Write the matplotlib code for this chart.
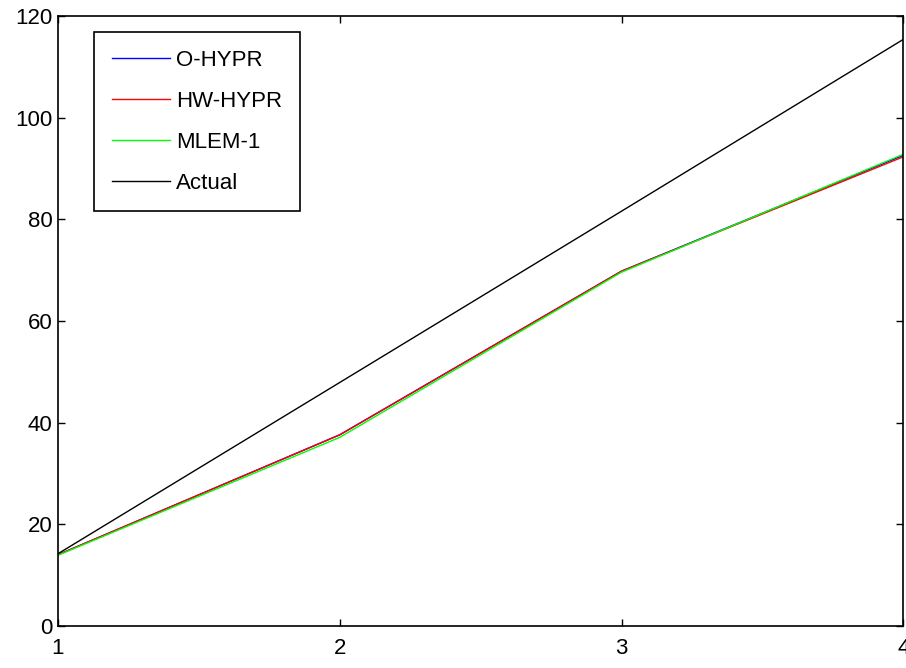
import matplotlib
matplotlib.use("Agg")
import matplotlib.pyplot as plt

x = [1, 2, 3, 4]
o_hypr = [14.0, 37.6, 69.8, 92.6]
hw_hypr = [14.0, 37.6, 69.8, 92.3]
mlem_1 = [13.9, 37.1, 69.6, 92.8]
actual = [14.2, 47.9, 81.6, 115.4]
xticks = [1, 2, 3, 4]
yticks = [0, 20, 40, 60, 80, 100, 120]

plt.rcParams['font.family'] = ['Liberation Sans', 'DejaVu Sans']
fs = 16

fig = plt.figure(figsize=(9.06, 6.68), dpi=100)
ax = fig.add_axes([0.064, 0.063, 0.933, 0.913])

ax.plot(x, o_hypr, color='#0000ff', lw=1.0, label='O-HYPR')
ax.plot(x, hw_hypr, color='#ff0000', lw=1.0, label='HW-HYPR')
ax.plot(x, mlem_1, color='#00ff00', lw=1.0, label='MLEM-1')
ax.plot(x, actual, color='black', lw=1.0, label='Actual')

ax.set_xlim(1, 4)
ax.set_ylim(0, 120)
ax.set_xticks(xticks)
ax.set_yticks(yticks)
ax.tick_params(direction='in', length=5, width=1, labelsize=fs, top=True, right=True)
ax.tick_params(axis='y', pad=4)
ax.tick_params(axis='x', pad=9)
for s in ax.spines.values():
    s.set_linewidth(1.2)

leg = ax.legend(loc='upper left', bbox_to_anchor=(0.0426, 0.974), borderaxespad=0,
                prop={'size': fs}, handlelength=2.6,
                handletextpad=0.3, labelspacing=0.9, borderpad=0.8, fancybox=False,
                edgecolor='black', framealpha=1)
leg.get_frame().set_linewidth(1.2)

fig.savefig('out.png', dpi=100)
